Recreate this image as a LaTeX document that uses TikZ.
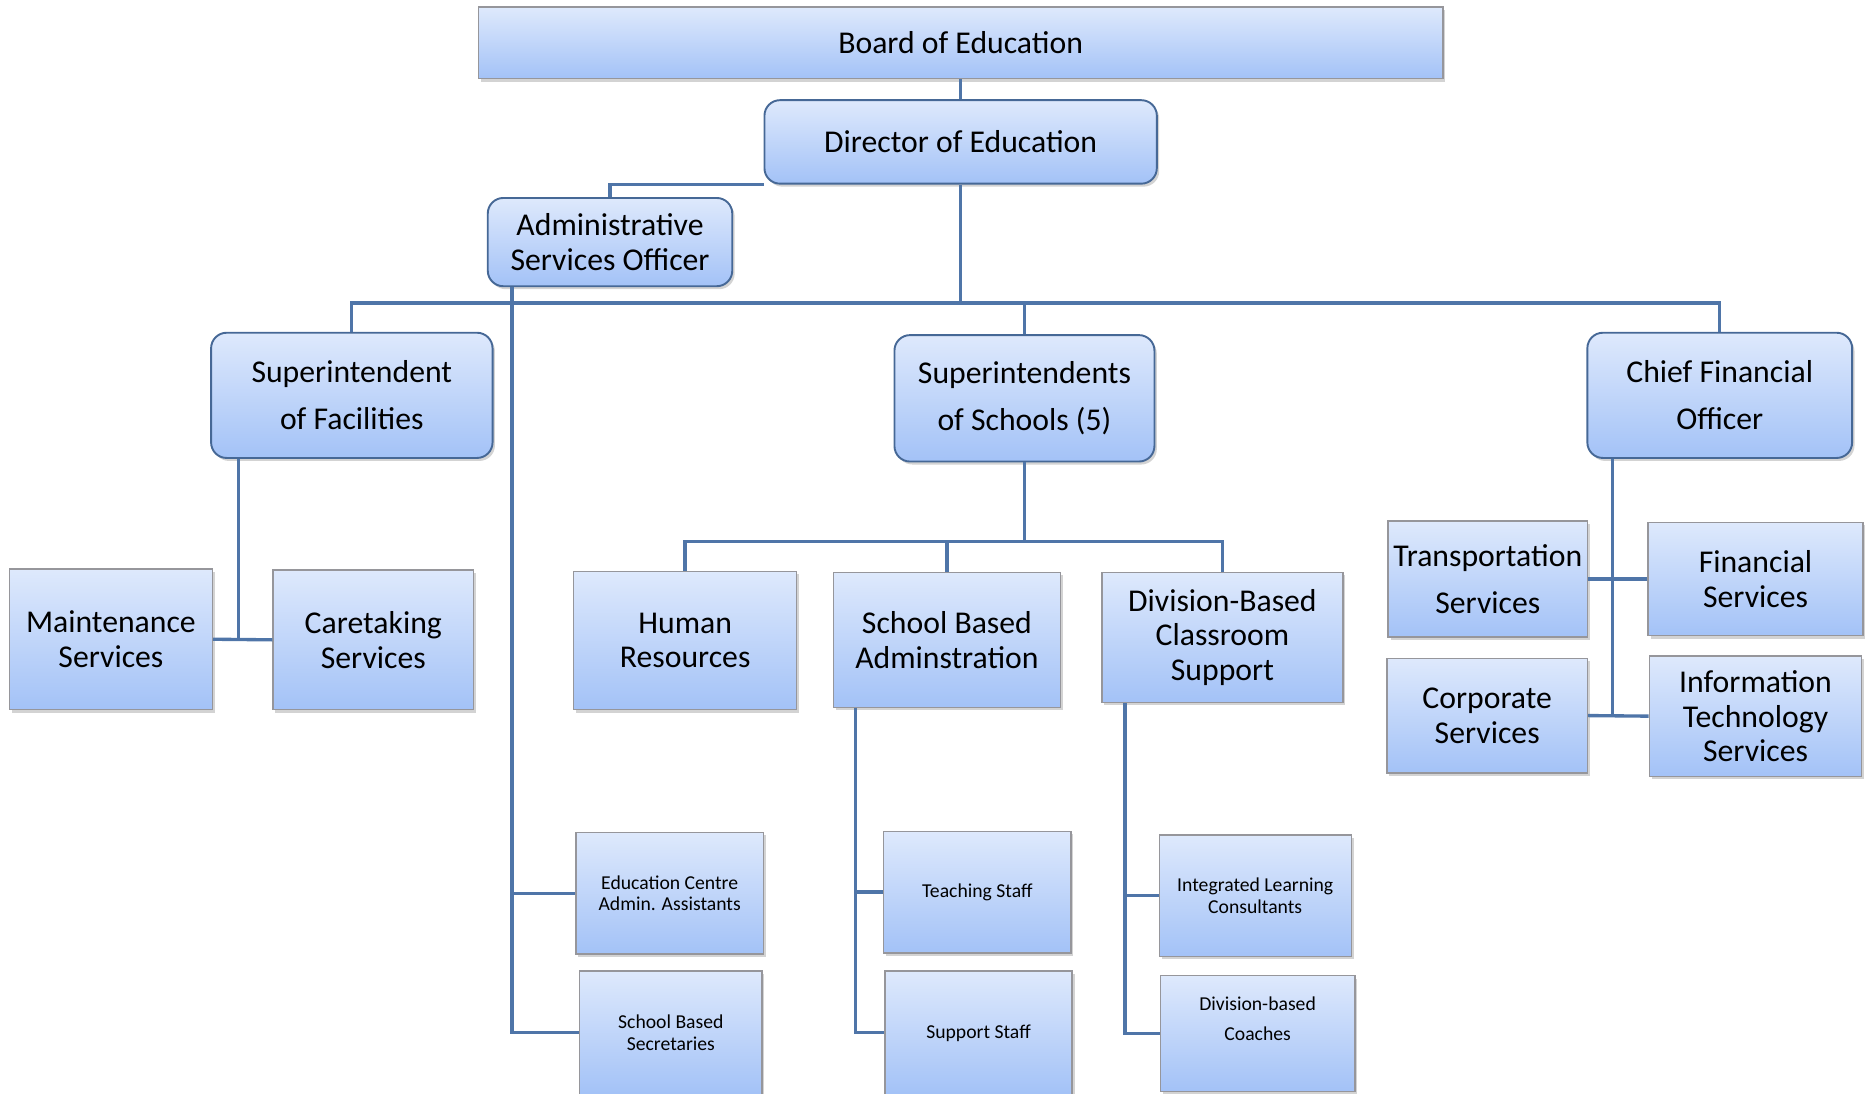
\documentclass[tikz,border=0pt]{standalone}
\usepackage{fontspec}
\setmainfont{Carlito}
\usepackage{xcolor}
\usepackage{tikz}
\usetikzlibrary{shadows}

\definecolor{boxtop}{RGB}{222,233,252}
\definecolor{boxbot}{RGB}{163,194,247}
\definecolor{headrule}{RGB}{70,104,150}
\definecolor{boxrule}{RGB}{150,150,155}
\definecolor{linkcol}{RGB}{79,117,168}

\begin{document}
\begin{tikzpicture}[x=1pt, y=-1pt,
    box/.style={draw=boxrule, line width=1.2pt, top color=boxtop, bottom color=boxbot,
        align=center, inner sep=0pt, font=\fontsize{26.6}{29}\selectfont,
        drop shadow={opacity=0.35, shadow xshift=2pt, shadow yshift=-2.5pt}},
    head/.style={box, draw=headrule, line width=1.6pt, rounded corners=13pt},
    small/.style={box, font=\fontsize{16.5}{18}\selectfont},
    link/.style={draw=linkcol, line width=2.8pt}]
    \useasboundingbox (0,0) rectangle (1568,917);

        % top of the chart
        \node[box, minimum width=809, minimum height=60] (board) at (805.5,36) {Board of Education};
        \node[head, minimum width=329, minimum height=70] (dir) at (805.5,119) {Director of Education};
        \node[head, minimum width=205, minimum height=74] (aso) at (511.5,203) {Administrative\\Services Officer};

        % superintendents
        \node[head, minimum width=236, minimum height=105, font=\fontsize{26.6}{39}\selectfont] (supf) at (295,331.5) {Superintendent\\of Facilities};
        \node[head, minimum width=218, minimum height=106, font=\fontsize{26.6}{40}\selectfont] (sups) at (859,334) {Superintendents\\of Schools (5)};
        \node[head, minimum width=222, minimum height=105, font=\fontsize{26.6}{39}\selectfont] (cfo) at (1442,331.5) {Chief Financial\\Officer};

        % facilities
        \node[box, minimum width=170, minimum height=118] (maint) at (93,536) {Maintenance\\Services};
        \node[box, minimum width=168, minimum height=117] (care) at (313,536.5) {Caretaking\\Services};

        % schools
        \node[box, minimum width=187, minimum height=116] (hr) at (574.5,537) {Human\\Resources};
        \node[box, minimum width=190, minimum height=113] (sba) at (794,536.5) {School Based\\Adminstration};
        \node[box, minimum width=202, minimum height=109] (dbcs) at (1025,534.5) {Division-Based\\Classroom\\Support};

        % finance
        \node[box, minimum width=167, minimum height=97, font=\fontsize{26.6}{40}\selectfont] (trans) at (1247.5,485.5) {Transportation\\Services};
        \node[box, minimum width=180, minimum height=95] (fin) at (1472,485.5) {Financial\\Services};
        \node[box, minimum width=168, minimum height=96] (corp) at (1247,600) {Corporate\\Services};
        \node[box, minimum width=178, minimum height=101] (it) at (1472,600.5) {Information\\Technology\\Services};

        % staff boxes
        \node[small, minimum width=157, minimum height=102] (ecaa) at (561.5,749) {Education Centre\\Admin. Assistants};
        \node[small, minimum width=153, minimum height=104] (sbsec) at (562.5,866) {School Based\\Secretaries};
        \node[small, minimum width=157, minimum height=102] (teach) at (819.5,748) {Teaching Staff};
        \node[small, minimum width=157, minimum height=104] (supp) at (820.5,866) {Support Staff};
        \node[small, minimum width=161, minimum height=102] (ilc) at (1052.5,751) {Integrated Learning\\Consultants};
        \node[small, minimum width=163, minimum height=97, font=\fontsize{16.5}{25}\selectfont] (dbc) at (1054.5,866.5) {Division-based\\Coaches\\~};

        \coordinate (hub) at (805.5,254);
        \coordinate (shub) at (859,454);

        \draw[link] (board.south) -- (dir.north);
        \draw[link] (aso.north) |- (dir.south west);
        \draw[link] (dir.south) -- (hub);
        \draw[link] (supf.north) |- (hub) -| (cfo.north);
        \draw[link] (hub) -| (sups.north);

        \draw[link] ([xshift=21pt]aso.south west) |- (ecaa.west);
        \draw[link] ([xshift=21pt]aso.south west) |- (sbsec.west);

        \draw[link] ([xshift=24pt]supf.south west) |- (maint.east);
        \draw[link] (maint.east) -- (care.west);

        \draw[link] (sups.south) -- (shub);
        \draw[link] (hr.north) |- (shub) -| (dbcs.north);
        \draw[link] (shub) -| (sba.north);

        \draw[link] ([xshift=19pt]sba.south west) |- (teach.west);
        \draw[link] ([xshift=19pt]sba.south west) |- (supp.west);
        \draw[link] ([xshift=20pt]dbcs.south west) |- (ilc.west);
        \draw[link] ([xshift=20pt]dbcs.south west) |- (dbc.west);

        \draw[link] ([xshift=22pt]cfo.south west) |- (corp.east);
        \draw[link] (trans.east) -- (fin.west);
        \draw[link] (corp.east) -- (it.west);
    \end{tikzpicture}
\end{document}
